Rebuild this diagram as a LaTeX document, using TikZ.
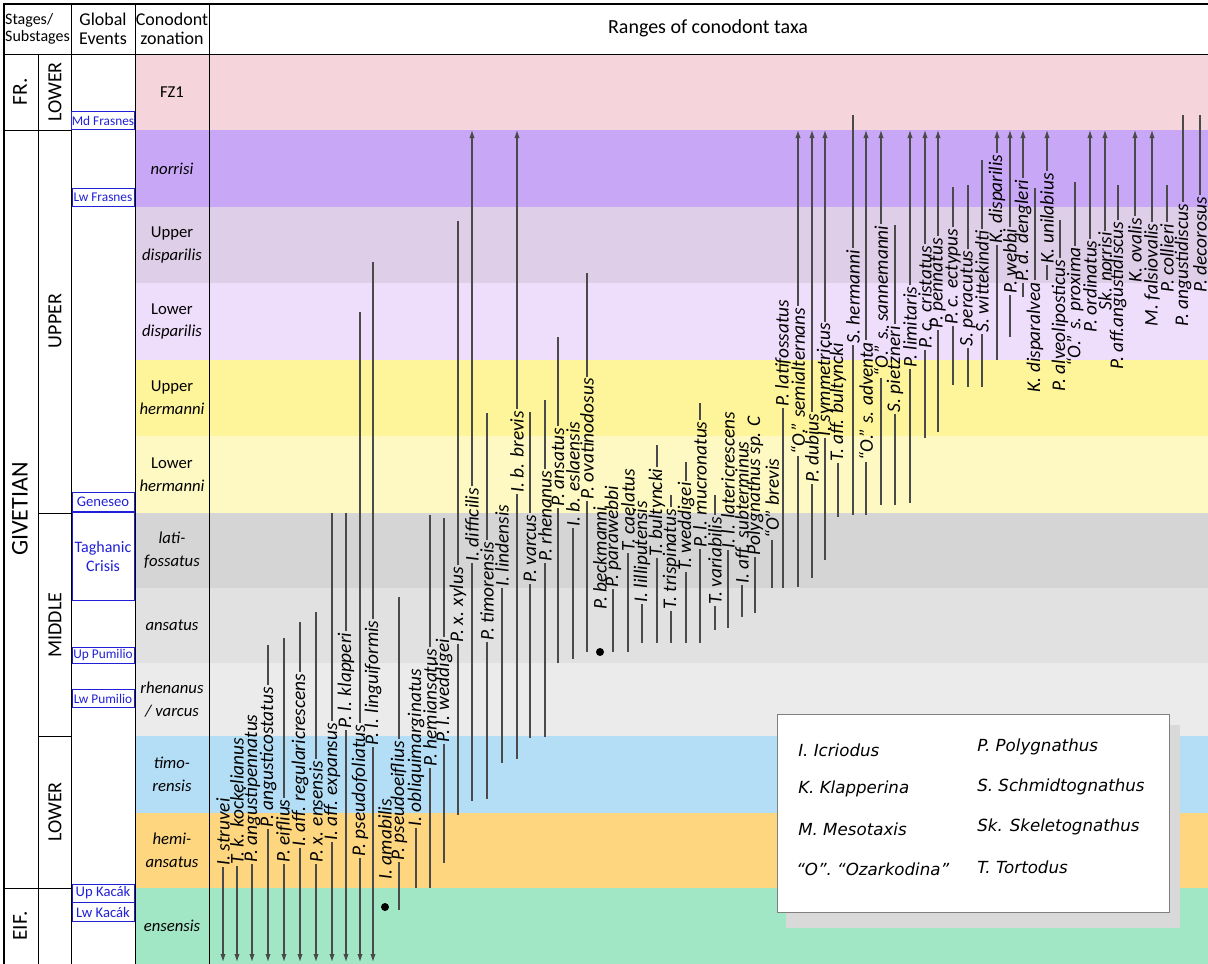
\documentclass[tikz,border=0pt]{standalone}
\usepackage{fontspec}
\setmainfont{Carlito}
\newfontfamily\legendfont{DejaVu Sans}
\usepackage{xcolor}
\usetikzlibrary{arrows.meta}

\definecolor{zFZ}{HTML}{F6D4DB}
\definecolor{zNor}{HTML}{C9A7F7}
\definecolor{zUDis}{HTML}{DFCEE7}
\definecolor{zLDis}{HTML}{EFDDFC}
\definecolor{zUHer}{HTML}{FEF59B}
\definecolor{zLHer}{HTML}{FEF9C2}
\definecolor{zLati}{HTML}{D5D5D5}
\definecolor{zAns}{HTML}{E1E1E1}
\definecolor{zRhe}{HTML}{EBEBEB}
\definecolor{zTim}{HTML}{B3DEF6}
\definecolor{zHem}{HTML}{FDD67F}
\definecolor{zEns}{HTML}{A2E7C5}
\definecolor{evblue}{HTML}{2020D8}
\definecolor{rangegray}{HTML}{4A4A4A}

\begin{document}
\begin{tikzpicture}[x=0.75pt, y=-0.75pt,
		head/.style={align=center, font=\fontsize{13.5}{14.5}\selectfont, inner sep=0pt},
		stage/.style={rotate=90, font=\fontsize{16}{18}\selectfont, inner sep=0pt},
		zone/.style={align=center, font=\fontsize{12.5}{17}\selectfont, inner sep=0pt},
		event/.style={draw=evblue, text=evblue, line width=0.7pt, inner sep=0pt,
			minimum width=46.5pt, font=\fontsize{10}{11}\selectfont},
		table rule/.style={line width=0.6pt, black},
		zone rule/.style={line width=0.4pt, gray!70},
		taxon/.style={rotate=90, inner sep=1.2pt, font=\fontsize{14.5}{15}\selectfont\itshape},
		range line/.style={line width=0.8pt, rangegray},
		upper n/.style={}, upper d/.style={}, upper u/.style={-{Latex[length=6pt,width=4pt]}},
		lower n/.style={}, lower u/.style={}, lower d/.style={-{Latex[length=6pt,width=4pt]}},
		fossil dot/.style={circle, fill=black, inner sep=0pt, minimum size=6pt},
		legend entry/.style={anchor=west, inner sep=0pt, font=\legendfont\fontsize{12.5}{14}\selectfont\itshape}
	]
	\useasboundingbox (0,0) rectangle (1208,964);
	\fill[white] (0,0) rectangle (1208,964);

	% zones: top/bottom/colour/name
	\foreach \za/\zb/\zc/\zn in {54/130/zFZ/{FZ1},
			130/207/zNor/{\textit{norrisi}},
			207/283/zUDis/{Upper\\\textit{disparilis}},
			283/360/zLDis/{Lower\\\textit{disparilis}},
			360/436/zUHer/{Upper\\\textit{hermanni}},
			436/513/zLHer/{Lower\\\textit{hermanni}},
			513/588/zLati/{\textit{lati-}\\\textit{fossatus}},
			588/663/zAns/{\textit{ansatus}},
			663/736/zRhe/{\textit{rhenanus}\\\textit{/ varcus}},
			736/813/zTim/{\textit{timo-}\\\textit{rensis}},
			813/888/zHem/{\textit{hemi-}\\\textit{ansatus}},
			888/964/zEns/{\textit{ensensis}}}{
		\fill[\zc] (135,\za) rectangle (1208,\zb);
		\draw[zone rule] (135,\zb) -- (209,\zb);
		\node[zone] at (172,{(\za+\zb)/2}) {\zn};
	}

	% table rules
	\draw[line width=1.4pt] (4,964) -- (4,4) -- (1208,4);
	\draw[table rule] (4,54) -- (1208,54);
	\draw[table rule] (38,54) -- (38,964);
	\draw[table rule] (71,4) -- (71,964);
	\draw[table rule] (135,4) -- (135,964);
	\draw[table rule] (209,4) -- (209,964);
	\draw[table rule] (4,130) -- (71,130);
	\draw[table rule] (4,888) -- (71,888);
	\draw[table rule] (38,513) -- (71,513);
	\draw[table rule] (38,736) -- (71,736);

	\node[head, align=left, font=\fontsize{12}{13}\selectfont] (hstage) at (37.5,29) {Stages/\\Substages};
	\node[head] (hevent) at (103,29) {Global\\Events};
	\node[head] (hzone) at (172,29) {Conodont\\zonation};
	\node[head, font=\fontsize{15}{16}\selectfont] (hrange) at (708,28) {Ranges of conodont taxa};

	\node[stage] (fr) at (20,92) {FR.};
	\node[stage, font=\fontsize{18}{20}\selectfont] (givetian) at (20,509) {GIVETIAN};
	\node[stage] (eif) at (20,926) {EIF.};
	\node[stage, font=\fontsize{15}{17}\selectfont] (frlower) at (55,92) {LOWER};
	\node[stage, font=\fontsize{15}{17}\selectfont] (upper) at (55,321) {UPPER};
	\node[stage, font=\fontsize{15}{17}\selectfont] (middle) at (55,625) {MIDDLE};
	\node[stage, font=\fontsize{15}{17}\selectfont] (lower) at (55,812) {LOWER};

	\node[event, minimum height=14pt] (mdfrasnes) at (103,120.5) {Md Frasnes};
	\node[event, minimum height=14pt] (lwfrasnes) at (103,197.5) {Lw Frasnes};
	\node[event, minimum height=14pt, font=\fontsize{11}{12}\selectfont] (geneseo) at (103,502) {Geneseo};
	\node[event, minimum height=66.5pt, align=center, font=\fontsize{12}{14}\selectfont] (taghanic) at (103,556.5) {Taghanic\\Crisis};
	\node[event, minimum height=12pt] (uppumilio) at (103,655) {Up Pumilio};
	\node[event, minimum height=14pt] (lwpumilio) at (103,698.5) {Lw Pumilio};
	\node[event, minimum height=13.5pt, font=\fontsize{11}{12}\selectfont] (upkacak) at (103,893) {Up Kacák};
	\node[event, minimum height=14.5pt, font=\fontsize{11}{12}\selectfont] (lwkacak) at (103,912) {Lw Kacák};

	% taxa: x/label start/top/bottom/tip/name
	\foreach \rx/\rs/\rt/\rb/\tip/\txt [count=\i] in {
			223/867/0/962/d/{I. struvei},
			237/866/0/962/d/{T. k. kockelianus},
			252/864/0/962/d/{P. angustipennatus},
			268/829/645/962/d/{P. angusticostatus},
			284/864/638/962/d/{P. eiflius},
			300/848/622/962/d/{I. aff. regularicrescens},
			316/864/612/962/d/{P. x. ensensis},
			332/842/513/962/d/{I. aff. expansus},
			346/730/513/962/d/{P. l. klapperi},
			360/858/312/962/d/{P. pseudofoliatus},
			373/747/262/962/d/{P. l. linguiformis},
			385/881/0/0/n/{I. amabilis},
			399/862/597/910/n/{P. pseudoeiflius},
			416/828/0/888/n/{I. obliquimarginatus},
			430/768/515/888/n/{P. hemiansatus},
			444/744/518/863/n/{P. l. weddigei},
			458/644/221/815/n/{P. x. xylus},
			472/563/130/801/u/{I. difficilis},
			487/642/413/799/n/{P. timorensis},
			502/588/0/763/n/{I. lindensis},
			517/494/130/759/u/{I. b. brevis},
			530/584/412/738/n/{P. varcus},
			545/563/400/737/n/{P. rhenanus},
			558/508/337/663/n/{P. ansatus},
			573/528/0/659/n/{I. b. eslaensis},
			587/501/273/652/n/{P. ovatinodosus},
			600/611/0/0/n/{P. beckmanni},
			613/589/0/652/n/{P. parawebbi},
			628/553/0/652/n/{T. caelatus},
			642/604/0/643/n/{I. lilliputensis},
			657/558/445/643/n/{T. bultyncki},
			671/611/495/643/n/{T. trispinatus},
			686/572/462/643/n/{T. weddigei},
			700/549/403/643/n/{P. l. mucronatus},
			715/606/495/630/n/{T. variabilis},
			728/550/0/628/n/{I. l. latericrescens},
			742/585/0/617/n/{I. aff. subterminus},
			755/557/0/613/n/{Polygnathus sp. C},
			772/540/0/588/n/{“O” brevis},
			783/408/0/588/n/{P. latifossatus},
			798/456/130/587/u/{“O.” semialternans},
			812/484/130/578/u/{P. dubius},
			825/438/130/560/u/{I. symmetricus},
			838/463/0/517/n/{T. aff. bultyncki},
			853/345/115/515/n/{S. hermanni},
			866/462/130/515/u/{“O.” s. adventa},
			881/378/130/505/u/{“O.” s. sannemanni},
			895/414/225/505/n/{S. pietzneri},
			910/369/130/503/u/{P. limitaris},
			925/350/130/438/u/{P. c. cristatus},
			938/330/130/432/u/{P. pennatus},
			953/326/187/385/n/{P. c. ectypus},
			968/348/185/387/n/{S. peracutus},
			982/334/160/387/n/{S. wittekindti},
			997/245/130/360/u/{K. disparilis},
			1010/295/130/337/u/{P. webbi},
			1023/283/130/297/u/{P. d. dengleri},
			1035/394/188/0/n/{K. disparalvea},
			1047/265/130/280/u/{K. unilabius},
			1060/393/220/0/n/{P. alveoliposticus},
			1075/368/182/0/n/{“O.” s. proxima},
			1090/334/130/0/u/{P. ordinatus},
			1105/312/130/0/u/{Sk. norrisi},
			1118/371/185/0/n/{P. aff.angustidiscus},
			1135/284/130/0/u/{K. ovalis},
			1152/328/130/0/u/{M. falsiovalis},
			1167/294/185/0/n/{P. collieri},
			1183/328/115/0/n/{P. angustidiscus},
			1200/294/115/0/n/{P. decorosus}}{
		\node[taxon, anchor=west] (t\i) at (\rx,\rs) {\txt};
		\ifnum\rt>0 \draw[range line, upper \tip] (t\i.east) -- (\rx,\rt); \fi
		\ifnum\rb>0 \draw[range line, lower \tip] (t\i.west) -- (\rx,\rb); \fi
	}
	\node[fossil dot] (amabilis dot) at (385,907) {};
	\node[fossil dot] (beckmanni dot) at (600,652) {};

	% legend
	\fill[black!15] (786,725) rectangle (1180,928);
	\node[draw=gray, fill=white, line width=0.6pt, minimum width=294pt, minimum height=149pt] (legend) at (973,813.5) {};
	\node[legend entry] (lgI) at (798,750) {I. Icriodus};
	\node[legend entry] (lgK) at (798,789) {K. Klapperina};
	\node[legend entry] (lgM) at (798,829) {M. Mesotaxis};
	\node[legend entry] (lgO) at (796,869) {“O”. “Ozarkodina”};
	\node[legend entry] (lgP) at (977,747) {P. Polygnathus};
	\node[legend entry] (lgS) at (977,787) {S. Schmidtognathus};
	\node[legend entry] (lgSk) at (977,827) {Sk. Skeletognathus};
	\node[legend entry] (lgT) at (977,867) {T. Tortodus};
\end{tikzpicture}
\end{document}
